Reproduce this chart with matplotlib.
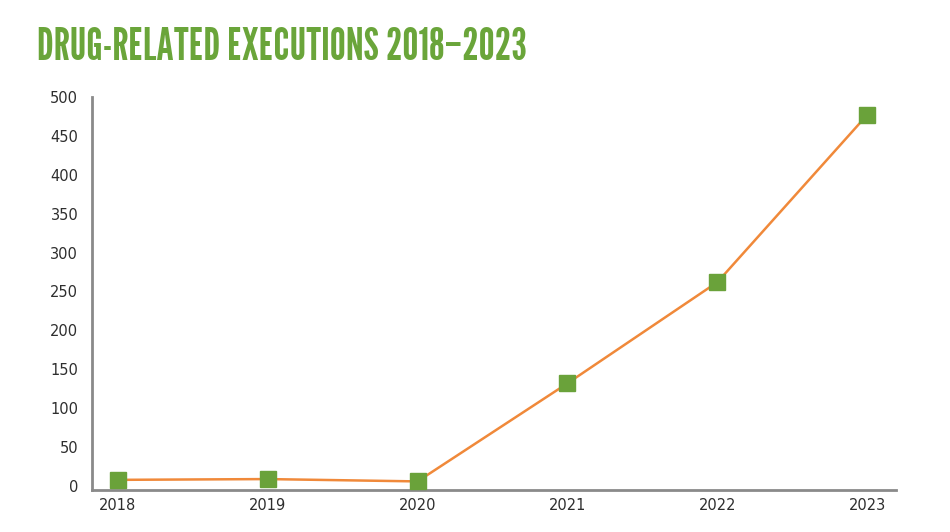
import matplotlib.pyplot as plt

years = [2018, 2019, 2020, 2021, 2022, 2023]
executions = [8, 9, 6, 132, 262, 477]
yticks = [0, 50, 100, 150, 200, 250, 300, 350, 400, 450, 500]

fig = plt.figure(figsize=(9.5, 5.32), dpi=100)
ax = fig.add_axes([0.097, 0.079, 0.846, 0.739])

# orange line with green square markers on top
ax.plot(years, executions, color='#f0893a', linewidth=1.8, zorder=2)
ax.plot(years, executions, linestyle='none', marker='s', markersize=11.5,
        markerfacecolor='#6aa23a', markeredgecolor='#6aa23a', zorder=3)

ax.set_xlim(2017.83, 2023.19)
ax.set_ylim(-5, 500)
ax.set_xticks(years)
ax.set_yticks(yticks)

for side in ['top', 'right']:
    ax.spines[side].set_visible(False)
for side in ['left', 'bottom']:
    ax.spines[side].set_color('#8a8a8a')
    ax.spines[side].set_linewidth(2)

ax.tick_params(length=0, labelsize=10.5, labelcolor='#2e2e2e')
ax.tick_params(axis='y', pad=10)
ax.tick_params(axis='x', pad=6)

fig.text(0.039, 0.91, 'DRUG-RELATED EXECUTIONS 2018\u20132023',
         family=['League Gothic', 'DejaVu Sans'],
         fontsize=32.5, color='#6aa53a', ha='left', va='center')

plt.savefig('out.png', dpi=100)
